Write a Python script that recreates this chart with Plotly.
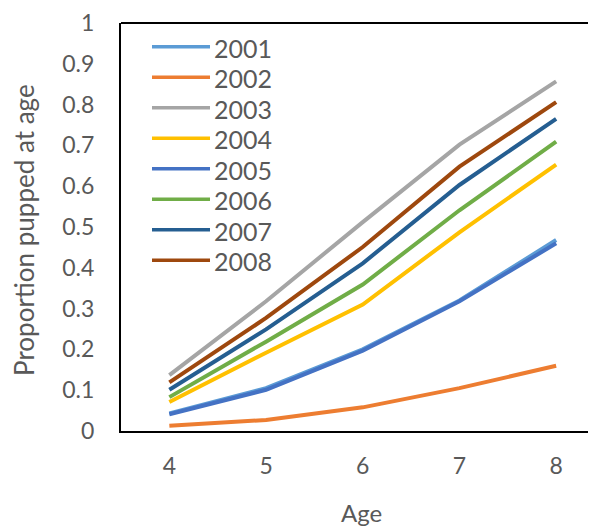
import plotly.graph_objects as go

ages = [4, 5, 6, 7, 8]
years = ["2001", "2002", "2003", "2004", "2005", "2006", "2007", "2008"]
y2001 = [0.043, 0.105, 0.200, 0.320, 0.468]
y2002 = [0.013, 0.027, 0.058, 0.105, 0.160]
y2003 = [0.137, 0.318, 0.512, 0.702, 0.857]
y2004 = [0.071, 0.192, 0.310, 0.487, 0.653]
y2005 = [0.041, 0.101, 0.197, 0.318, 0.460]
y2006 = [0.083, 0.219, 0.359, 0.541, 0.709]
y2007 = [0.101, 0.249, 0.411, 0.603, 0.765]
y2008 = [0.119, 0.277, 0.451, 0.648, 0.806]
series = [y2001, y2002, y2003, y2004, y2005, y2006, y2007, y2008]
colors = ["#5B9BD5", "#ED7D31", "#A5A5A5", "#FFC000", "#4472C4", "#70AD47", "#255E91", "#9E480E"]
y_ticks = [0, 0.1, 0.2, 0.3, 0.4, 0.5, 0.6, 0.7, 0.8, 0.9, 1]
y_tick_text = ["0", "0.1", "0.2", "0.3", "0.4", "0.5", "0.6", "0.7", "0.8", "0.9", "1"]

FONT = "Lato"
GREY = "#595959"

# page body has an 8px offset; plot area spans page x 121..596, y 19..431
PL, PR, PT, PB = 121, 596, 19, 431
PW, PH = PR - PL, PB - PT


def px(xp):
    return (xp - PL) / PW


def py(yp):
    return (PB - yp) / PH


fig = go.Figure()
for name, vals, col in zip(years, series, colors):
    fig.add_trace(go.Scatter(x=ages, y=vals, name=name, mode="lines",
                             line=dict(color=col, width=4), showlegend=False))

shapes = [dict(type="line", xref="paper", yref="paper", x0=0, x1=1, y0=1, y1=1,
               line=dict(color="black", width=2))]
annotations = [
    dict(text="Age", xref="paper", yref="paper", x=px(361), y=py(513),
         xanchor="center", yanchor="middle", showarrow=False,
         font=dict(family=FONT, size=24, color=GREY)),
    dict(text="Proportion pupped at age", xref="paper", yref="paper",
         x=px(24), y=py(228), textangle=-90,
         xanchor="center", yanchor="middle", showarrow=False,
         font=dict(family=FONT, size=26, color=GREY)),
]
# legend (swatch + label) placed inside the plot's upper-left corner
for i, (name, col) in enumerate(zip(years, colors)):
    row = 43 + i * 30.8
    shapes.append(dict(type="line", xref="paper", yref="paper", x0=px(152), x1=px(210),
                       y0=py(row), y1=py(row), line=dict(color=col, width=3.5)))
    annotations.append(dict(text=name, xref="paper", yref="paper", x=px(212), y=py(row + 1),
                            xanchor="left", yanchor="middle", showarrow=False,
                            font=dict(family=FONT, size=25, color=GREY)))

fig.update_layout(
    width=588, height=518,
    margin=dict(l=PL - 8, r=0, t=PT - 8, b=518 - (PB - 8)),
    paper_bgcolor="white", plot_bgcolor="white",
    font=dict(family=FONT, size=23, color=GREY),
    showlegend=False,
    xaxis=dict(range=[3.5, 3.5 + PW / 96.7], tickvals=ages, ticktext=[str(a) for a in ages],
               showgrid=False, zeroline=False, showline=True, linecolor="black", linewidth=2,
               ticks="", ticklabelstandoff=13, ticklabeloverflow="allow",
               tickfont=dict(family=FONT, size=23, color=GREY)),
    yaxis=dict(range=[0, 1], tickvals=y_ticks, ticktext=y_tick_text,
               showgrid=False, zeroline=False, showline=True, linecolor="black", linewidth=2,
               ticks="", ticklabelstandoff=20, ticklabeloverflow="allow",
               tickfont=dict(family=FONT, size=23, color=GREY)),
    shapes=shapes,
    annotations=annotations,
)

fig.write_html("out.html")
